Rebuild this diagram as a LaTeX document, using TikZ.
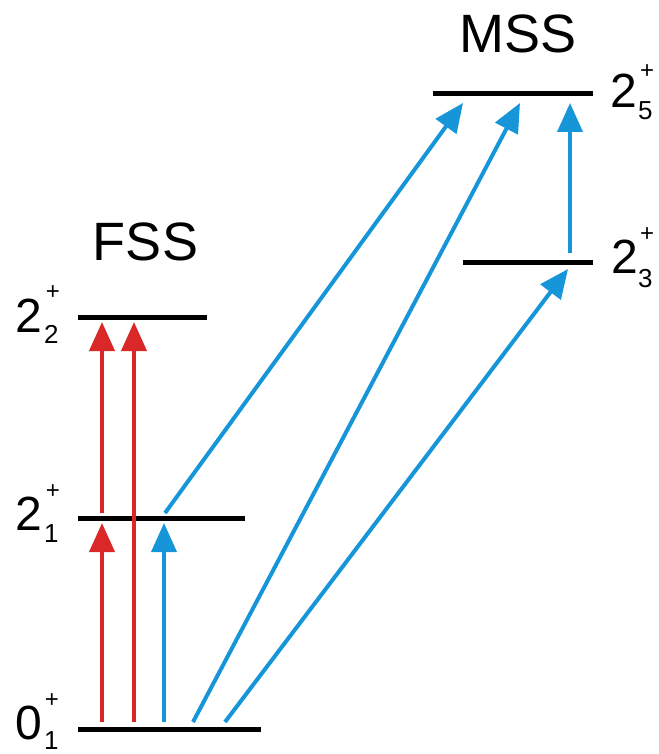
\documentclass[tikz,border=0pt]{standalone}
\usepackage{fontspec}
\setmainfont{Liberation Sans}
\usetikzlibrary{arrows.meta}
\definecolor{tred}{RGB}{218,40,40}
\definecolor{tblue}{RGB}{22,150,216}
\begin{document}
\begin{tikzpicture}[x=1pt,y=-1pt,
  levelline/.style={line width=5pt},
  arr/.style={line width=4pt,-{Triangle[length=29pt,width=25pt]}},
  redarr/.style={arr,tred},
  bluearr/.style={arr,tblue},
  mainlab/.style={inner sep=0pt,anchor=base west,font=\fontsize{48}{48}\selectfont},
  sublab/.style={inner sep=0pt,anchor=base west,font=\fontsize{26}{26}\selectfont},
  suplab/.style={inner sep=0pt,font=\fontsize{24}{24}\selectfont},
  title/.style={inner sep=0pt,font=\fontsize{54}{54}\selectfont}]
\useasboundingbox (0,0) rectangle (658,754);
% level lines
\coordinate (g0a) at (78,729); \coordinate (g0b) at (261,729);
\coordinate (l1a) at (78,518); \coordinate (l1b) at (245,518);
\coordinate (l2a) at (78,317); \coordinate (l2b) at (207,317);
\coordinate (l3a) at (463,262); \coordinate (l3b) at (593,262);
\coordinate (l5a) at (433,94); \coordinate (l5b) at (593,94);
\draw[levelline] (g0a) -- (g0b);
\draw[levelline] (l1a) -- (l1b);
\draw[levelline] (l2a) -- (l2b);
\draw[levelline] (l3a) -- (l3b);
\draw[levelline] (l5a) -- (l5b);
% titles
\node[title] (fss) at (145.5,241.5) {FSS};
\node[title] (mss) at (518.5,33.5) {MSS};
% labels
\node[mainlab] (n0) at (15,739) {0};
\node[sublab] (n0s) at (44,749) {1};
\node[suplab] (n0p) at (52,701) {+};
\node[mainlab] (n1) at (15,530) {2};
\node[sublab] (n1s) at (44,542) {1};
\node[suplab] (n1p) at (53,492) {+};
\node[mainlab] (n2) at (15,332) {2};
\node[sublab] (n2s) at (44,343) {2};
\node[suplab] (n2p) at (53,293) {+};
\node[mainlab] (n5) at (610,108) {2};
\node[sublab] (n5s) at (638,120) {5};
\node[suplab] (n5p) at (647,72) {+};
\node[mainlab] (n3) at (611,273) {2};
\node[sublab] (n3s) at (638,287) {3};
\node[suplab] (n3p) at (647,235) {+};
% arrow end points
\coordinate (r1s) at (102,722); \coordinate (r1e) at (102,523);
\coordinate (r2s) at (102,513); \coordinate (r2e) at (102,322);
\coordinate (r3s) at (134,722); \coordinate (r3e) at (134,322);
\coordinate (b1s) at (164,722); \coordinate (b1e) at (164,523);
\coordinate (b2s) at (165,513); \coordinate (b2e) at (463,103);
\coordinate (b3s) at (193,722); \coordinate (b3e) at (520,103);
\coordinate (b4s) at (225,722); \coordinate (b4e) at (568,269);
\coordinate (b5s) at (570,253); \coordinate (b5e) at (570,103);
\draw[redarr] (r1s) -- (r1e);
\draw[redarr] (r2s) -- (r2e);
\draw[redarr] (r3s) -- (r3e);
\draw[bluearr] (b1s) -- (b1e);
\draw[bluearr] (b2s) -- (b2e);
\draw[bluearr] (b3s) -- (b3e);
\draw[bluearr] (b4s) -- (b4e);
\draw[bluearr] (b5s) -- (b5e);
\end{tikzpicture}
\end{document}
